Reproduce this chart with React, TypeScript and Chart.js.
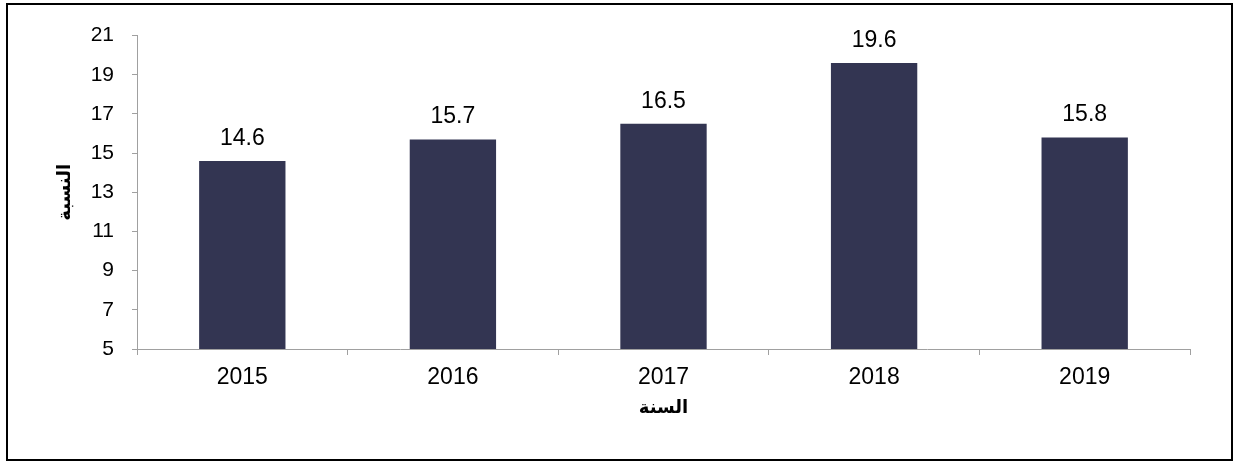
import React, { useEffect, useRef } from "react";
import { Chart, registerables } from "chart.js";

Chart.register(...registerables);

const categories: string[] = ["2015", "2016", "2017", "2018", "2019"];
const values: number[] = [14.6, 15.7, 16.5, 19.6, 15.8];
const yTicks: number[] = [5, 7, 9, 11, 13, 15, 17, 19, 21];
const xTitle = "السنة";
const yTitle = "النسبة";

const BAR_COLOR = "#333552";
const AXIS_COLOR = "#a0a0a0";
const FONT = "'Liberation Sans', Arial, 'DejaVu Sans', sans-serif";

const CANVAS_W = 1223;
const CANVAS_H = 454;

export default function App() {
  const ref = useRef<HTMLCanvasElement | null>(null);

  useEffect(() => {
    if (!ref.current) return;

    const labelsPlugin = {
      id: "customLabels",
      afterDatasetsDraw(chart: any) {
        const ctx = chart.ctx;
        const meta = chart.getDatasetMeta(0);
        ctx.save();
        ctx.fillStyle = "#000";
        ctx.font = `23px ${FONT}`;
        ctx.textAlign = "center";
        ctx.textBaseline = "alphabetic";
        meta.data.forEach((el: any, i: number) => {
          ctx.fillText(values[i].toFixed(1), el.x, el.y - 16);
        });
        ctx.restore();
      },
      afterDraw(chart: any) {
        const ctx = chart.ctx;
        const ca = chart.chartArea;
        ctx.save();
        ctx.fillStyle = "#000";
        ctx.font = `bold 18px 'DejaVu Sans', sans-serif`;
        ctx.textAlign = "center";
        ctx.textBaseline = "middle";
        ctx.fillText(xTitle, (ca.left + ca.right) / 2, 403);
        ctx.translate(57, (ca.top + ca.bottom) / 2);
        ctx.rotate(-Math.PI / 2);
        ctx.fillText(yTitle, 0, 0);
        ctx.restore();
      },
    };

    const chart = new Chart(ref.current, {
      type: "bar",
      data: {
        labels: categories,
        datasets: [
          {
            data: values,
            backgroundColor: BAR_COLOR,
            borderWidth: 0,
            barPercentage: 0.41,
            categoryPercentage: 1,
          },
        ],
      },
      options: {
        animation: false,
        responsive: false,
        maintainAspectRatio: false,
        layout: { padding: { left: 0, right: 41, top: 29, bottom: 0 } },
        plugins: {
          legend: { display: false },
          tooltip: { enabled: false },
          title: { display: false },
        },
        scales: {
          x: {
            afterFit(scale: any) {
              scale.height = 110;
            },
            grid: {
              display: true,
              drawOnChartArea: false,
              drawTicks: true,
              tickLength: 6,
              color: AXIS_COLOR,
              offset: true,
            },
            border: { display: true, color: AXIS_COLOR, width: 1 },
            ticks: {
              color: "#000",
              font: { family: FONT, size: 23 },
              padding: 9,
              maxRotation: 0,
            },
          },
          y: {
            min: 5,
            max: 21,
            afterFit(scale: any) {
              scale.width = 129;
            },
            afterBuildTicks(scale: any) {
              scale.ticks = yTicks.map((v) => ({ value: v }));
            },
            grid: {
              display: true,
              drawOnChartArea: false,
              drawTicks: true,
              tickLength: 5,
              color: AXIS_COLOR,
            },
            border: { display: true, color: AXIS_COLOR, width: 1 },
            ticks: {
              color: "#000",
              font: { family: FONT, size: 21 },
              padding: 18,
              stepSize: 2,
            },
          },
        },
      },
      plugins: [labelsPlugin],
    });

    return () => chart.destroy();
  }, []);

  return (
    <div
      style={{
        position: "absolute",
        left: 6,
        top: 3,
        width: CANVAS_W + 4,
        height: CANVAS_H + 4,
        border: "2px solid #000",
        boxSizing: "border-box",
        background: "#fff",
      }}
    >
      <canvas
        ref={ref}
        width={CANVAS_W}
        height={CANVAS_H}
        style={{ display: "block", width: CANVAS_W, height: CANVAS_H }}
      />
    </div>
  );
}
